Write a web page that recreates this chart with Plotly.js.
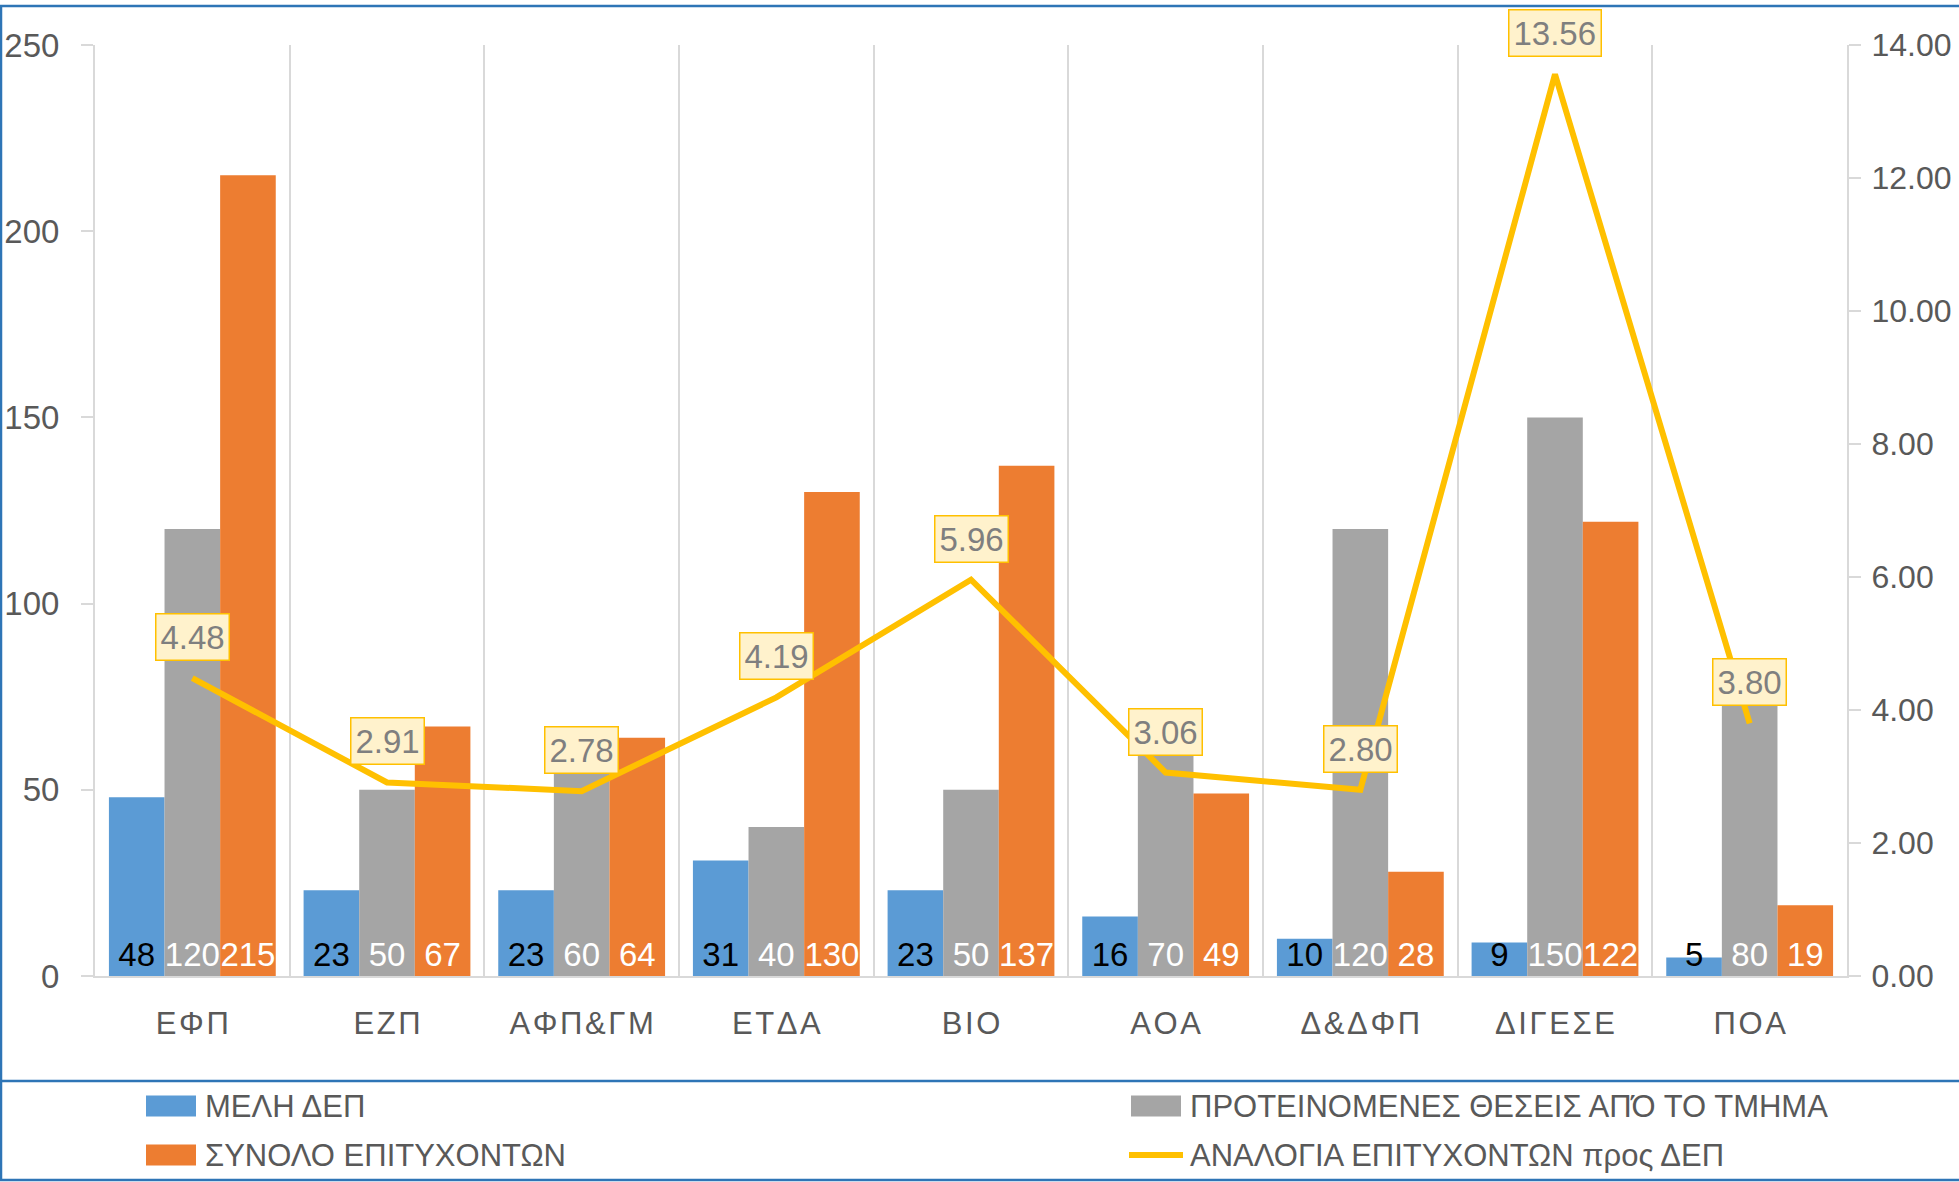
<!DOCTYPE html>
<html><head><meta charset="utf-8">
<script src="https://cdn.plot.ly/plotly-3.0.1.min.js"></script>
<style>html,body{margin:0;padding:0;background:#fff;overflow:hidden}#chart{width:1959px;height:1182px}</style>
</head><body><div id="chart"></div>
<script>
// ---- data ----
const categories = ['ΕΦΠ','ΕΖΠ','ΑΦΠ&ΓΜ','ΕΤΔΑ','ΒΙΟ','ΑΟΑ','Δ&ΔΦΠ','ΔΙΓΕΣΕ','ΠΟΑ'];
const melhDep = [48,23,23,31,23,16,10,9,5];
const proteinomenesTheseis = [120,50,60,40,50,70,120,150,80];
const synoloEpitychonton = [215,67,64,130,137,49,28,122,19];
const analogia = [4.48,2.91,2.78,4.19,5.96,3.06,2.80,13.56,3.80];
const seriesNames = ['ΜΕΛΗ ΔΕΠ','ΠΡΟΤΕΙΝΟΜΕΝΕΣ ΘΕΣΕΙΣ ΑΠΌ ΤΟ ΤΜΗΜΑ','ΣΥΝΟΛΟ ΕΠΙΤΥΧΟΝΤΩΝ','ΑΝΑΛΟΓΙΑ ΕΠΙΤΥΧΟΝΤΩΝ προς ΔΕΠ'];
const leftTicks = [0,50,100,150,200,250];
const rightTicks = [0,2,4,6,8,10,12,14];

// ---- style ----
const colors = ['#5B9BD5','#A5A5A5','#ED7D31','#FFC000'];
const labelColors = ['#000000','#FFFFFF','#FFFFFF'];
const W = 1959, H = 1182;
const M = {l:95, r:112, t:45, b:206};
const PL = M.l, PR = W - M.r, PT = M.t, PB = H - M.b;
const px = x => (x - PL) / (PR - PL);
const py = y => (PB - y) / (PB - PT);
const FONT = 'Liberation Sans, Arial, sans-serif';
const GRID = '#D9D9D9';
const TXT = '#595959';
const BORDER = '#2E75B6';

const barSeries = [melhDep, proteinomenesTheseis, synoloEpitychonton];
const traces = barSeries.map((vals, i) => ({
  type: 'bar', name: seriesNames[i], x: categories, y: vals,
  marker: {color: colors[i]},
  texttemplate: '%{y}', textposition: 'inside', insidetextanchor: 'start',
  textangle: 0, constraintext: 'none',
  insidetextfont: {family: FONT, size: 33, color: labelColors[i]},
  hoverinfo: 'x+y+name'
}));
traces.push({
  type: 'scatter', mode: 'lines', name: seriesNames[3], x: categories, y: analogia,
  yaxis: 'y2', line: {color: colors[3], width: 6, shape: 'linear'}, cliponaxis: false
});

const annotations = analogia.map((v, i) => ({
  x: categories[i], y: v, xref: 'x', yref: 'y2', text: v.toFixed(2),
  showarrow: false, yshift: 41, bgcolor: '#FFF2CC', bordercolor: '#FFC000',
  borderwidth: 1.5, borderpad: 4, font: {family: FONT, size: 33, color: '#7F7F7F'}
}));

// manual legend (Excel-like swatches)
const legendPos = [
  {sx: 146, tx: 203, y: 1106},
  {sx: 1131, tx: 1188, y: 1106},
  {sx: 146, tx: 203, y: 1155},
  {sx: 1131, tx: 1188, y: 1155}
];
const shapes = [
  {type: 'rect', xref: 'paper', yref: 'paper', x0: px(1), x1: px(W + 20), y0: py(6), y1: py(1180),
   line: {color: BORDER, width: 2.5}, fillcolor: 'rgba(0,0,0,0)', layer: 'above'},
  {type: 'line', xref: 'paper', yref: 'paper', x0: px(1), x1: px(W + 20), y0: py(1081), y1: py(1081),
   line: {color: BORDER, width: 2.5}}
];
legendPos.forEach((p, i) => {
  if (i < 3) {
    shapes.push({type: 'rect', xref: 'paper', yref: 'paper', x0: px(p.sx), x1: px(p.sx + 50),
      y0: py(p.y - 10.5), y1: py(p.y + 10.5), line: {width: 0}, fillcolor: colors[i]});
  } else {
    shapes.push({type: 'line', xref: 'paper', yref: 'paper', x0: px(p.sx - 2), x1: px(p.sx + 52),
      y0: py(p.y), y1: py(p.y), line: {color: colors[i], width: 6}});
  }
  annotations.push({xref: 'paper', yref: 'paper', x: px(p.tx), y: py(p.y), xanchor: 'left', yanchor: 'middle',
    text: seriesNames[i], showarrow: false, font: {family: FONT, size: 31, color: TXT}});
});

const axisCommon = {
  showline: true, linecolor: GRID, linewidth: 2, showgrid: false, zeroline: false,
  ticks: 'outside', ticklen: 12, tickcolor: GRID, tickwidth: 2, ticklabelstandoff: 15,
  tickfont: {family: FONT, size: 33, color: TXT}, fixedrange: true
};

const layout = {
  width: W, height: H, margin: M, showlegend: false,
  paper_bgcolor: '#FFFFFF', plot_bgcolor: '#FFFFFF',
  font: {family: FONT, color: TXT},
  barmode: 'group', bargap: 0.143, bargroupgap: 0,
  xaxis: {
    type: 'category', tickvals: categories,
    ticktext: categories.map(c => Array.from(c).join('\u200A')),
    tickfont: {family: FONT, size: 31, color: TXT},
    showline: true, linecolor: GRID, linewidth: 2, ticklabelstandoff: 19,
    showgrid: true, gridcolor: GRID, gridwidth: 2, tickson: 'boundaries', ticks: '',
    zeroline: false, fixedrange: true
  },
  yaxis: Object.assign({}, axisCommon, {range: [0, 250], tickvals: leftTicks}),
  yaxis2: Object.assign({}, axisCommon, {range: [0, 14], tickvals: rightTicks, tickformat: '.2f',
    overlaying: 'y', side: 'right', ticklabelstandoff: 4,
    tickfont: {family: FONT, size: 32, color: TXT}}),
  shapes: shapes, annotations: annotations
};

Plotly.newPlot('chart', traces, layout, {displayModeBar: false});
</script>
</body></html>
